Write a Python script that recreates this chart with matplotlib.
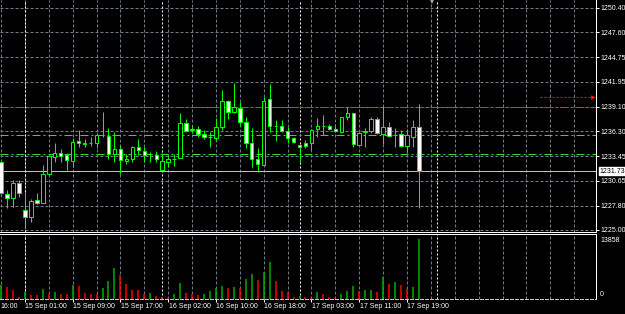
import matplotlib
matplotlib.use('Agg')
import matplotlib.pyplot as plt
from matplotlib.patches import Rectangle
from matplotlib import font_manager
import matplotlib.transforms as mtransforms

# ---------------- data ----------------
opens = [1232.78, 1229.12, 1228.66, 1230.38, 1227.29, 1226.49, 1228.43, 1228.09, 1231.41, 1233.35,
         1233.81, 1233.58, 1232.89, 1235.18, 1234.90, 1234.95, 1234.95, 1235.87, 1235.75, 1233.69,
         1234.27, 1232.89, 1233.12, 1234.49, 1234.04, 1233.69, 1233.58, 1231.86, 1232.78, 1233.12,
         1233.24, 1237.24, 1236.44, 1236.55, 1235.98, 1235.64, 1235.52, 1236.78, 1239.76, 1238.50,
         1238.96, 1237.36, 1234.95, 1233.12, 1232.44, 1239.99, 1236.90, 1236.90, 1236.33, 1235.52,
         1234.72, 1234.95, 1234.95, 1236.55, 1236.90, 1236.90, 1236.55, 1236.21, 1237.93, 1238.33,
         1234.78, 1236.21, 1236.33, 1237.70, 1235.93, 1236.78, 1235.87, 1235.93, 1234.61, 1235.64,
         1236.78]
highs = [1232.89, 1229.57, 1230.72, 1230.72, 1229.35, 1228.55, 1229.23, 1232.44, 1233.50, 1234.95,
         1234.27, 1233.81, 1235.52, 1236.44, 1235.41, 1235.64, 1236.10, 1238.50, 1236.67, 1236.21,
         1234.72, 1233.69, 1234.61, 1235.41, 1234.49, 1233.92, 1234.04, 1233.81, 1233.58, 1233.69,
         1238.39, 1237.70, 1236.90, 1236.90, 1236.44, 1236.21, 1237.81, 1241.02, 1239.87, 1241.82,
         1239.64, 1237.93, 1236.67, 1234.38, 1240.22, 1241.70, 1237.58, 1237.58, 1236.78, 1235.64,
         1234.75, 1235.30, 1236.50, 1237.81, 1238.16, 1237.13, 1237.13, 1237.96, 1239.07, 1238.39,
         1236.21, 1236.67, 1237.93, 1237.93, 1239.13, 1237.41, 1236.67, 1236.44, 1236.50, 1237.58,
         1239.42]
lows = [1229.12, 1227.52, 1227.63, 1228.77, 1225.23, 1225.91, 1227.97, 1228.09, 1231.35, 1232.78,
        1232.78, 1231.86, 1232.21, 1234.49, 1234.49, 1234.61, 1234.38, 1235.64, 1233.12, 1232.78,
        1231.41, 1232.55, 1232.78, 1233.58, 1232.78, 1232.78, 1232.78, 1231.86, 1232.21, 1232.32,
        1233.24, 1236.21, 1236.10, 1235.64, 1235.41, 1234.49, 1235.30, 1236.44, 1237.70, 1238.39,
        1236.90, 1234.38, 1232.21, 1231.63, 1232.44, 1236.21, 1235.18, 1236.21, 1234.95, 1234.95,
        1232.78, 1234.38, 1234.15, 1235.64, 1235.87, 1236.44, 1236.21, 1236.10, 1237.58, 1234.49,
        1234.72, 1234.49, 1236.10, 1235.98, 1234.84, 1235.64, 1234.44, 1234.49, 1233.86, 1234.49,
        1227.46]
closes = [1229.23, 1228.66, 1230.38, 1229.23, 1226.49, 1228.32, 1228.09, 1231.41, 1233.46, 1233.81,
          1233.46, 1233.01, 1235.07, 1234.95, 1234.88, 1234.97, 1235.87, 1235.85, 1233.69, 1234.27,
          1233.01, 1233.12, 1234.49, 1234.15, 1233.58, 1233.67, 1233.12, 1232.89, 1233.12, 1233.14,
          1237.24, 1236.33, 1236.50, 1235.98, 1235.64, 1235.62, 1236.78, 1239.76, 1238.50, 1239.07,
          1237.36, 1234.95, 1233.12, 1232.55, 1239.76, 1236.90, 1236.88, 1236.33, 1235.52, 1235.07,
          1234.49, 1234.61, 1236.44, 1236.90, 1236.92, 1236.55, 1236.27, 1237.93, 1238.33, 1234.84,
          1236.15, 1236.38, 1237.70, 1236.10, 1236.78, 1235.75, 1235.85, 1234.61, 1235.87, 1236.84,
          1231.73]
volumes = [3230, 2770, 2080, 460, 1620, 920, 910, 2310, 1150, 1620,
           1160, 1150, 3230, 3000, 1390, 1160, 1150, 2540, 4160, 7160,
           5540, 3470, 2080, 2070, 1160, 1390, 580, 350, 230, 1160,
           3700, 1390, 1160, 920, 1160, 1850, 2540, 3000, 2540, 2770,
           2540, 4620, 5780, 4390, 6240, 8550, 4160, 1850, 1730, 460,
           690, 460, 230, 1620, 1160, 460, 230, 1160, 1850, 3000,
           1960, 2080, 2190, 1620, 5080, 3470, 3930, 3230, 2310, 2770,
           13858]

grid_prices = [1250.40, 1247.60, 1244.75, 1241.95, 1239.10, 1236.30, 1233.45, 1230.65, 1227.80, 1225.00]
price_labels = ['1250.40', '1247.60', '1244.75', '1241.95', '1239.10', '1236.30', '1233.45',
                '1230.65', '1227.80', '1225.00']
time_label_bars = [4, 12, 20, 28, 36, 44, 52, 60, 68]
time_labels = ['15 Sep 01:00', '15 Sep 09:00', '15 Sep 17:00', '16 Sep 02:00',
               '16 Sep 10:00', '16 Sep 18:00', '17 Sep 03:00', '17 Sep 11:00', '17 Sep 19:00']
left_cut_label = '16:00'
separator_bars = [4, 27, 50, 73]
level_dark = 1239.05
levels_lime = [1235.83, 1233.66]
current_price = 1231.73
current_label = '1231.73'
alert_price = 1240.25
alert_from_bar = 90.3
alert_to_bar = 99.2
vol_max_label = 13858

# ---------------- style ----------------
names = {f.name for f in font_manager.fontManager.ttflist}
if 'Liberation Sans Narrow' in names:
    FONT, FS = 'Liberation Sans Narrow', 5.7
else:
    FONT, FS = 'Liberation Sans', 5.0
plt.rcParams['font.family'] = [FONT, 'DejaVu Sans']
plt.rcParams['lines.scale_dashes'] = False

W, H = 625, 314
PX = 72 / 100.0  # points per pixel
GRID_C = '#6f7c8c'
LIME = '#00ff00'

fig = plt.figure(figsize=(W / 100, H / 100), dpi=100, facecolor='black')
ax = fig.add_axes([0, 1 - 232 / H, 596 / W, 232 / H], facecolor='black')
axv = fig.add_axes([0, 1 - 299 / H, 596 / W, 65 / H], facecolor='black')

XL = (-0.17, 99.66)
for a in (ax, axv):
    a.set_xlim(*XL)
    for s in ('top', 'left'):
        a.spines[s].set_visible(False)
    a.spines['right'].set_color('white')
    a.spines['right'].set_linewidth(PX)
ax.spines['bottom'].set_color('white')
ax.spines['bottom'].set_linewidth(PX)
axv.spines['top'].set_visible(True)
axv.spines['top'].set_color('white')
axv.spines['top'].set_linewidth(PX)
axv.spines['bottom'].set_color('#c8c8c8')
axv.spines['bottom'].set_linewidth(PX)
axv.spines['bottom'].set_linestyle((0, (3 * PX, 2 * PX)))

ax.set_ylim(1224.77, 1251.315)
axv.set_ylim(0, vol_max_label * 65 / 60)

grid_dash = (0, (3 * PX, 2 * PX))
# vertical grid
for a in (ax, axv):
    for b in range(0, 100, 4):
        a.axvline(b, color=GRID_C, lw=PX, ls=grid_dash, zorder=1)
    for b in separator_bars:
        a.axvline(b, color='white', lw=PX, ls=(0, (2 * PX, 2 * PX)), zorder=1.5)
for p in grid_prices:
    ax.axhline(p, color=GRID_C, lw=PX, ls=grid_dash, zorder=1)

# horizontal level lines
dashdot = (0, (8 * PX, 3 * PX, 2 * PX, 3 * PX))
ax.axhline(level_dark, color='#1c9a1c', lw=PX, ls=dashdot, zorder=2)
for lv in levels_lime:
    ax.axhline(lv, color='#2ee02e', lw=PX, ls=dashdot, zorder=2)
ax.axhline(current_price, color='#c0c0c0', lw=PX, zorder=2)

# candles
bw = 0.58
for i, (o, h, l, c) in enumerate(zip(opens, highs, lows, closes)):
    ax.vlines(i, l, h, color=LIME, lw=PX, zorder=3)
    face = 'black' if c >= o else 'white'
    ax.add_patch(Rectangle((i - bw / 2, min(o, c)), bw, abs(c - o), facecolor=face,
                           edgecolor=LIME, lw=PX, zorder=4))

# alert arrow
ax.plot([alert_from_bar, alert_to_bar], [alert_price, alert_price], color='#ff1010', lw=PX,
        ls=(0, (2 * PX, 2 * PX)), zorder=5)
ax.plot([alert_to_bar], [alert_price], marker='>', ms=3.4, color='#ff1010', mew=0, zorder=5)

# shift marker at top
ax.plot([72.2], [1251.15], marker='v', ms=4, color='#a0a0a0', mew=0, clip_on=False, zorder=6)

# price axis
ax.yaxis.tick_right()
ax.set_yticks(grid_prices)
ax.set_yticklabels(price_labels)
ax.tick_params(axis='y', colors='white', labelsize=FS, length=3 * PX, width=PX, pad=1 * PX)
ax.set_xticks([])
ytr = mtransforms.blended_transform_factory(fig.transFigure, ax.transData)
ax.text(599 / W, current_price, current_label, transform=ytr, color='black', fontsize=FS,
        ha='left', va='center', zorder=10,
        bbox=dict(boxstyle='square,pad=0.05', facecolor='white', edgecolor='white'))

# volumes
vcolors = ['#00b000'] + ['#00b000' if volumes[k] > volumes[k - 1] else '#ff0000'
                         for k in range(1, len(volumes))]
axv.vlines(range(len(volumes)), 0, volumes, colors=vcolors, lw=1.5 * PX, zorder=3)
axv.yaxis.tick_right()
axv.set_yticks([vol_max_label])
axv.set_yticklabels([str(vol_max_label)])
axv.tick_params(axis='y', colors='white', labelsize=FS, length=0, pad=4 * PX)
vtr = mtransforms.blended_transform_factory(fig.transFigure, axv.transAxes)
axv.text(600 / W, 4 / 65, '0', transform=vtr, color='white', fontsize=FS, ha='left', va='center')

# time axis
axv.set_xticks(time_label_bars)
axv.set_xticklabels(time_labels)
axv.tick_params(axis='x', colors='white', labelsize=FS, length=3 * PX, width=PX, pad=1.2 * PX)
off = mtransforms.ScaledTranslation(0.5 / 100, 0, fig.dpi_scale_trans)
for lab in axv.get_xticklabels():
    lab.set_ha('left')
    lab.set_transform(lab.get_transform() + off)
fig.text(0.5 / W, 1 - 307 / H, left_cut_label, color='white', fontsize=FS, ha='left', va='center')

fig.savefig('out.png', dpi=100, facecolor='black')
